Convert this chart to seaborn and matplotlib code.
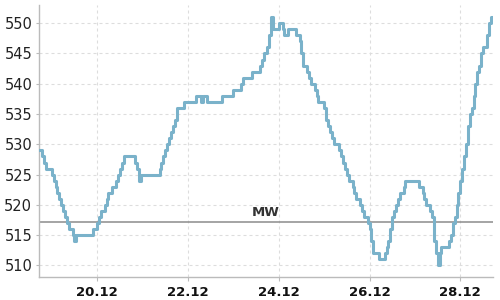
import matplotlib
matplotlib.use("Agg")
import matplotlib.pyplot as plt
import seaborn as sns
import pandas as pd

# hours since 18.12 00:00 at which the value changes (hourly data, step chart)
hours = [17, 19, 20, 21, 24, 25, 26, 27, 28, 29, 30, 31, 32, 33, 35, 36, 37,
         46, 48, 49, 50, 52, 53, 54, 56, 58, 59, 60, 61, 62, 68, 69, 70, 71,
         81, 82, 83, 84, 85, 86, 87, 88, 89, 90, 94, 100, 103, 104, 106, 114,
         120, 124, 125, 130, 134, 135, 136, 138, 139, 140, 141, 144, 146, 147,
         149, 153, 155, 156, 157, 159, 160, 161, 163, 164, 165, 168, 169, 170,
         171, 172, 173, 176, 177, 178, 179, 180, 181, 183, 184, 185, 187, 188,
         189, 191, 192, 193, 194, 197, 200, 201, 202, 203, 204, 205, 206, 207,
         208, 210, 211, 218, 220, 221, 222, 224, 225, 226, 227, 228, 229, 230,
         234, 235, 236, 237, 238, 239, 240, 241, 242, 243, 244, 245, 246, 247,
         248, 249, 250, 251, 252, 254, 255, 256, 257]
values = [529, 528, 527, 526, 525, 524, 523, 522, 521, 520, 519, 518, 517, 516, 515, 514, 515,
          516, 517, 518, 519, 520, 521, 522, 523, 524, 525, 526, 527, 528, 527, 526, 524, 525,
          526, 527, 528, 529, 530, 531, 532, 533, 534, 536, 537, 538, 537, 538, 537, 538,
          539, 540, 541, 542, 543, 544, 545, 546, 548, 551, 549, 550, 549, 548,
          549, 548, 547, 545, 543, 542, 541, 540, 539, 538, 537, 536, 534, 533,
          532, 531, 530, 529, 528, 527, 526, 525, 524, 523, 522, 521, 520, 519,
          518, 517, 516, 514, 512, 511, 512, 513, 514, 516, 518, 519, 520, 521,
          522, 523, 524, 523, 522, 521, 520, 519, 518, 514, 512, 510, 512, 513,
          514, 515, 517, 518, 520, 522, 524, 526, 528, 530, 533, 535, 536, 538,
          540, 542, 543, 545, 546, 548, 550, 551, 551]

mean_value = 517.2
mean_label = "MW"
x_ticks = [48, 96, 144, 192, 240]
x_tick_labels = ["20.12", "22.12", "24.12", "26.12", "28.12"]
y_ticks = [510, 515, 520, 525, 530, 535, 540, 545, 550]

df = pd.DataFrame({"hour": hours, "value": values})

sns.set_theme(style="white")
plt.rcParams["font.family"] = ["DejaVu Sans"]

fig = plt.figure(figsize=(5, 3), dpi=100)
ax = fig.add_axes([0.077, 0.0767, 0.908, 0.9066])

ax.grid(True, color="#dddddd", linewidth=0.8, linestyle=(0, (2.7, 2.7)))
ax.set_axisbelow(True)

ax.axhline(mean_value, color="#8c8c8c", linewidth=1.1, zorder=2)
ax.text((17 + 257) / 2, mean_value + 0.4, mean_label, ha="center", va="bottom",
        fontsize=9.5, fontweight="bold", color="#333333", zorder=4)

sns.lineplot(data=df, x="hour", y="value", drawstyle="steps-post",
             color="#7ab2ca", linewidth=2.2, ax=ax, zorder=3)

ax.set_xlim(17, 257)
ax.set_ylim(508.1, 553.0)
ax.set_xticks(x_ticks)
ax.set_xticklabels(x_tick_labels, fontsize=9.5, fontweight="bold", color="#111111")
ax.set_yticks(y_ticks)
ax.set_yticklabels([str(v) for v in y_ticks], fontsize=10.5, color="#222222")
ax.set_xlabel("")
ax.set_ylabel("")

for s in ["top", "right"]:
    ax.spines[s].set_visible(False)
for s in ["left", "bottom"]:
    ax.spines[s].set_color("#bbbbbb")
    ax.spines[s].set_linewidth(1.0)

ax.tick_params(axis="x", length=3, width=0.8, color="#bbbbbb", pad=3.5, bottom=True)
ax.tick_params(axis="y", length=2.5, width=0.8, color="#bbbbbb", pad=2, left=True)

fig.savefig("out.png", dpi=100)
